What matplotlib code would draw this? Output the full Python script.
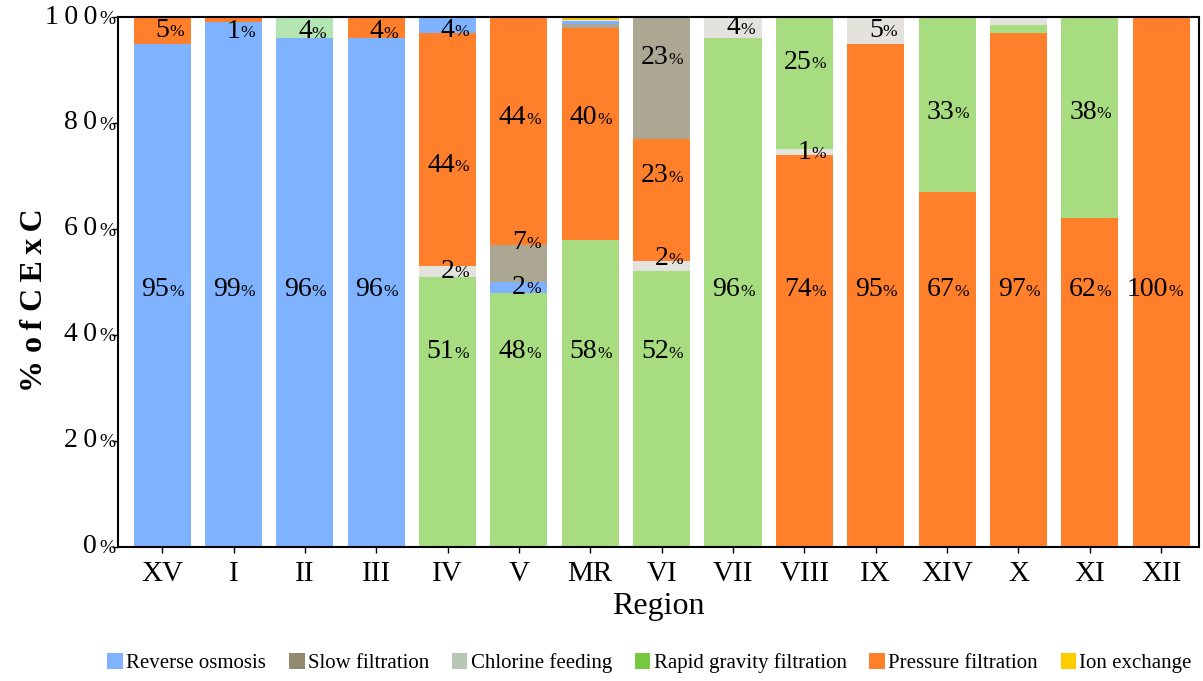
import matplotlib.pyplot as plt
from matplotlib.patches import Patch
import numpy as np

plt.rcParams['font.family'] = ['Liberation Serif', 'DejaVu Serif']

regions = ['XV', 'I', 'II', 'III', 'IV', 'V', 'MR', 'VI', 'VII',
           'VIII', 'IX', 'XIV', 'X', 'XI', 'XII']

# share of CExC per treatment (%), one value per region
reverse_osmosis = [95, 99, 96, 96, 4, 2, 0.6, 0, 0, 0, 0, 0, 0, 0, 0]
slow_filtration = [0, 0, 0, 0, 0, 7, 0.6, 23, 0, 0, 0, 0, 0, 0, 0]
chlorine_feeding = [0, 0, 4, 0, 2, 0, 0.3, 2, 4, 1, 5, 0, 1.5, 0, 0]
rapid_gravity = [0, 0, 0, 0, 51, 48, 58, 52, 96, 25, 0, 33, 1.5, 38, 0]
pressure_filtration = [5, 1, 0, 4, 44, 44, 40, 23, 0, 74, 95, 67, 97, 62, 100]
ion_exchange = [0, 0, 0, 0, 0, 0, 0.5, 0, 0, 0, 0, 0, 0, 0, 0]

series = {
    'ro': reverse_osmosis,
    'sf': slow_filtration,
    'cf': chlorine_feeding,
    'rg': rapid_gravity,
    'pf': pressure_filtration,
    'ix': ion_exchange,
}

# stacking order, bottom to top
stack_order = [
    ['ro', 'pf'], ['ro', 'pf'], ['ro', 'cf'], ['ro', 'pf'],
    ['rg', 'cf', 'pf', 'ro'],
    ['rg', 'ro', 'sf', 'pf'],
    ['rg', 'pf', 'sf', 'ro', 'cf', 'ix'],
    ['rg', 'cf', 'pf', 'sf'],
    ['rg', 'cf'],
    ['pf', 'cf', 'rg'],
    ['pf', 'cf'],
    ['pf', 'rg'],
    ['pf', 'rg', 'cf'],
    ['pf', 'rg'],
    ['pf'],
]

bar_colors = {'ro': '#80b3ff', 'sf': '#aca793', 'cf': '#e3e2dc',
              'rg': '#a7dc80', 'pf': '#ff7f2a', 'ix': '#f5c400'}
legend_colors = {'ro': '#80b3ff', 'sf': '#918a6f', 'cf': '#b7c8b7',
                 'rg': '#77c83e', 'pf': '#ff7f2a', 'ix': '#ffcc00'}
legend_names = {'ro': 'Reverse osmosis', 'sf': 'Slow filtration',
                'cf': 'Chlorine feeding', 'rg': 'Rapid gravity filtration',
                'pf': 'Pressure filtration', 'ix': 'Ion exchange'}

# label heights (in %) where they don't sit at the segment middle
label_y = {
    (1, 'pf'): 97.3, (2, 'cf'): 97.2, (3, 'pf'): 97.2,
    (4, 'pf'): 72, (4, 'ro'): 97.5,
    (5, 'sf'): 57.5, (5, 'pf'): 81,
    (6, 'pf'): 81,
    (7, 'cf'): 54.5, (7, 'pf'): 70, (7, 'sf'): 92.3,
    (8, 'cf'): 98,
    (9, 'rg'): 91.5, (11, 'rg'): 82, (13, 'rg'): 82,
}

fig = plt.figure(figsize=(12.03, 6.81), dpi=100)
ax = fig.add_axes([0.098, 0.197, 0.8987, 0.778])

x = np.arange(len(regions))
for i in x:
    bottom = 0
    for key in stack_order[i]:
        v = series[key][i]
        col = bar_colors[key]
        if key == 'cf' and regions[i] == 'II':
            col = '#b3e6b3'
        ax.bar(i, v, bottom=bottom, width=0.8, color=col, linewidth=0)
        # thin unlabelled slivers carry fractional values
        if v >= 1 and float(v).is_integer():
            if (i, key) in label_y:
                y = label_y[(i, key)]
            elif bottom == 0:
                y = 48.5 if v >= 60 else 36.8
            else:
                y = bottom + v / 2
            ax.annotate(f'{v:g}', (i, y), xytext=(5, 0), textcoords='offset points',
                        ha='right', va='center', fontsize=20)
            ax.annotate('%', (i, y), xytext=(5, -1.5), textcoords='offset points',
                        ha='left', va='center', fontsize=12.5)
        bottom += v

ax.set_xlim(-0.62, 14.53)
ax.set_ylim(0, 100)
ax.set_xticks(x)
ax.set_xticklabels(regions, fontsize=21)
ax.set_yticks(np.arange(0, 101, 20))
ax.set_yticklabels([])
for t in range(0, 101, 20):
    ax.annotate('%', (0, t), xycoords=('axes fraction', 'data'), xytext=(-2, -1.5),
                textcoords='offset points', ha='right', va='center', fontsize=14)
    ax.annotate('\u2009'.join(str(t)), (0, t), xycoords=('axes fraction', 'data'),
                xytext=(-15, 0), textcoords='offset points', ha='right', va='center',
                fontsize=20)
ax.tick_params(axis='both', direction='out', length=4, width=1, color='black')
ax.tick_params(axis='x', pad=6)
for s in ax.spines.values():
    s.set_linewidth(1.5)
    s.set_color('black')

ax.set_xlabel('Region', fontsize=23, labelpad=4)
ylab = ' '.join('\u2009'.join(w) for w in ['%', 'of', 'CExC'])
ax.set_ylabel(ylab, fontsize=23, fontweight='bold')
ax.yaxis.set_label_coords(-0.064, 0.466)

handles = [Patch(facecolor=legend_colors[k], label=legend_names[k])
           for k in ['ro', 'sf', 'cf', 'rg', 'pf', 'ix']]
fig.legend(handles=handles, loc='center', bbox_to_anchor=(0.54, 0.026), ncol=6,
           frameon=False, fontsize=15, handlelength=0.75, handleheight=0.75,
           handletextpad=0.15, columnspacing=1.1, borderaxespad=0)

fig.savefig('out.png', dpi=100)
